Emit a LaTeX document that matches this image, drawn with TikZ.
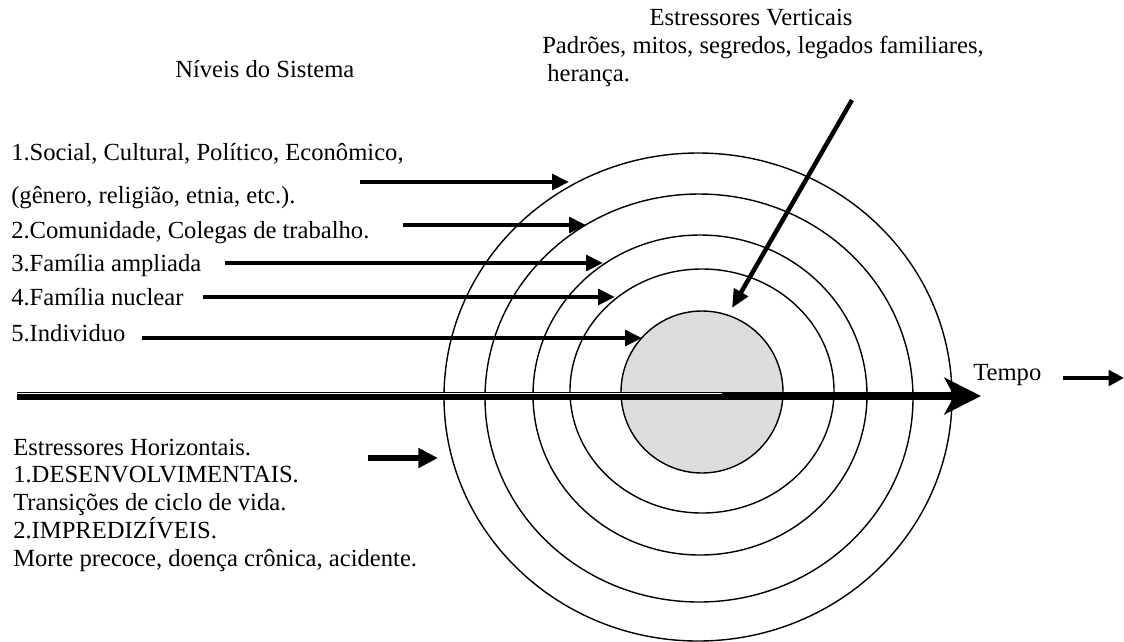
\documentclass[tikz,border=0pt]{standalone}
\usepackage{fontspec}
\setmainfont{Liberation Serif}
\usetikzlibrary{arrows.meta}

\definecolor{nucleo}{RGB}{220,220,220}

\tikzset{
	rotulo/.style={anchor=base west, inner sep=0pt},
	anel/.style={line width=1pt},
	nivel/.style={line width=2.85pt, -{Triangle[length=12pt,width=11pt]}},
	estresse/.style={line width=4.3pt, -{Triangle[length=14pt,width=13.5pt]}},
	temposeta/.style={line width=5.7pt, -{Stealth[length=26pt,width=26pt,inset=7pt]}},
}

\begin{document}
\begin{tikzpicture}[x=0.025cm, y=-0.025cm, font=\fontsize{17.5}{20}\selectfont]
\useasboundingbox (0,0) rectangle (1124,641);

% aneis do sistema
\draw[anel] (698,397) ellipse [x radius=254, y radius=244];
\draw[anel] (699,398) ellipse [x radius=214, y radius=204];
\draw[anel] (700,395) ellipse [x radius=167, y radius=160];
\draw[anel] (702,391) ellipse [x radius=132, y radius=122];
\draw[anel, fill=nucleo] (702,392) circle [radius=81];

% niveis
\node[rotulo] (niveis) at (175,77) {Níveis do Sistema};
\node[rotulo] (n1a) at (11,160) {1.Social, Cultural, Político, Econômico,};
\node[rotulo] (n1b) at (11,203) {(gênero, religião, etnia, etc.).};
\node[rotulo] (n2) at (11,238) {2.Comunidade, Colegas de trabalho.};
\node[rotulo] (n3) at (11,271) {3.Família ampliada};
\node[rotulo] (n4) at (11,305) {4.Família nuclear};
\node[rotulo] (n5) at (11,341) {5.Individuo};

\foreach \ya/\xs/\xe [count=\i] in {182/360/569, 225/403/586, 263/225/603, 297/203/615, 338/142/642} {
	\coordinate (s\i) at (\xs,\ya);
	\coordinate (e\i) at (\xe,\ya);
	\draw[nivel] (s\i) -- (e\i);
}

% estressores verticais
\node[anchor=base, inner sep=0pt] (vtit) at (751,25) {Estressores Verticais};
\node[rotulo] (v1) at (542,53) {Padrões, mitos, segredos, legados familiares,};
\node[rotulo] (v2) at (547,81) {herança.};
\coordinate (vs) at (852,100);
\coordinate (ve) at (732,308);
\draw[line width=3.2pt, -{Triangle[length=13pt,width=11pt]}] (vs) -- (ve);

% tempo
\coordinate (t0) at (17,396);
\coordinate (t1) at (981,396);
\coordinate (tm) at (722,393.5);
\draw[temposeta] (t0) -- (t1);
\draw[white, line width=0.45pt] (t0 |- tm) -- (tm);
\node[rotulo] (tempo) at (973,380) {Tempo};
\coordinate (ts) at (1063,378);
\coordinate (te) at (1124,378);
\draw[line width=2.85pt, -{Triangle[length=11pt,width=11pt]}] (ts) -- (te);

% estressores horizontais
\node[rotulo] (h1) at (13,455) {Estressores Horizontais.};
\node[rotulo] (h2) at (13,482) {1.DESENVOLVIMENTAIS.};
\node[rotulo] (h3) at (13,510) {Transições de ciclo de vida.};
\node[rotulo] (h4) at (13,538) {2.IMPREDIZÍVEIS.};
\node[rotulo] (h5) at (13,566) {Morte precoce, doença crônica, acidente.};
\coordinate (hs) at (368,458);
\coordinate (he) at (438,458);
\draw[estresse] (hs) -- (he);
\end{tikzpicture}
\end{document}
